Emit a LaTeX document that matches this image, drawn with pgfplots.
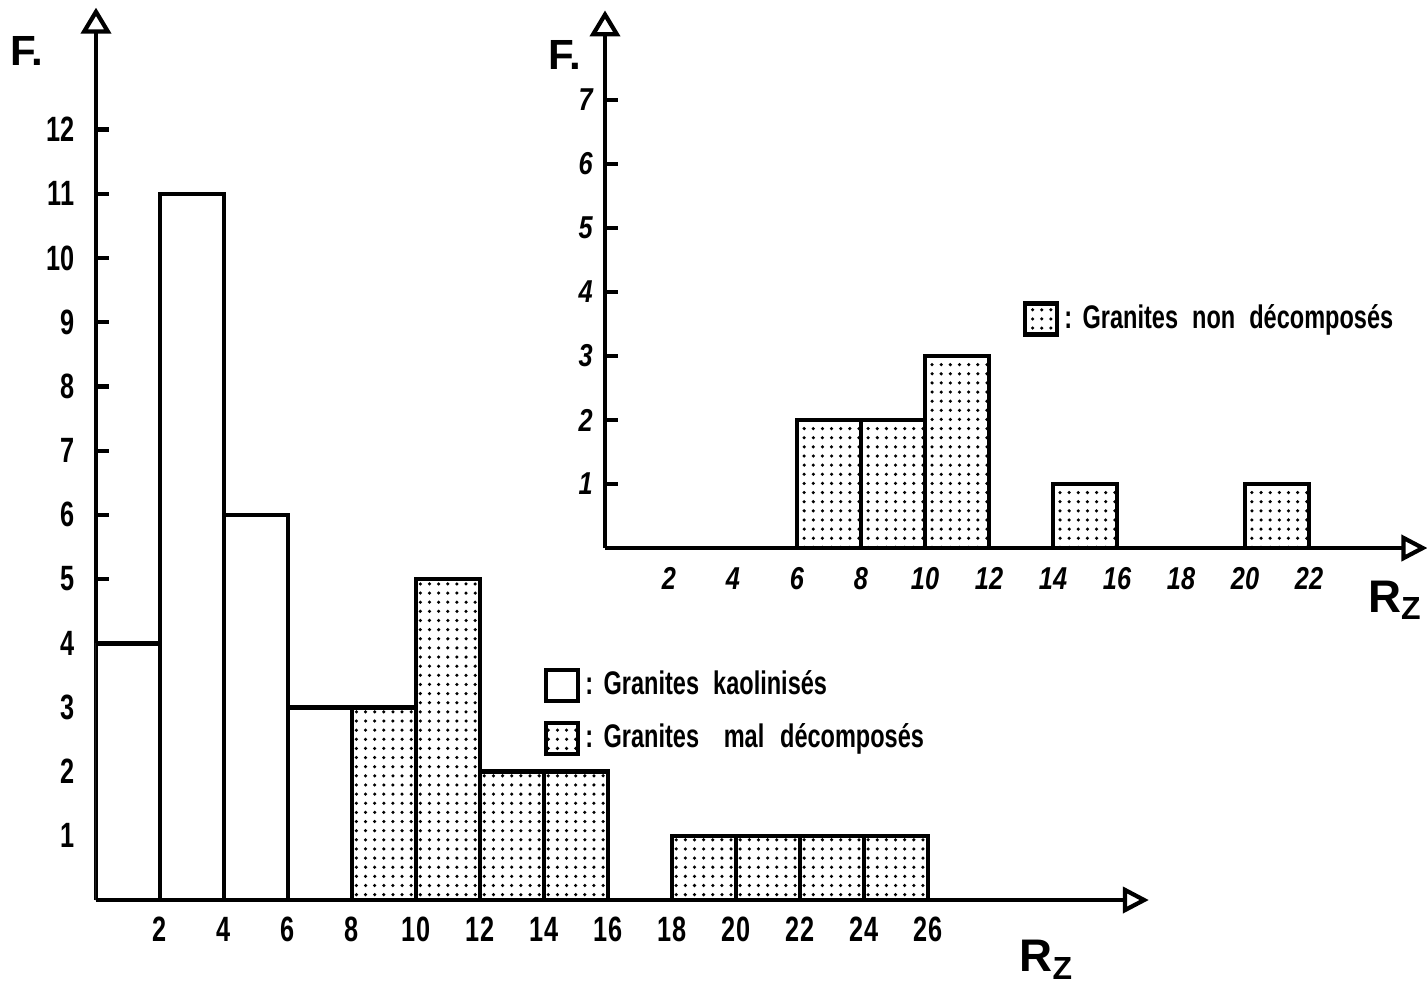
\documentclass[border=0pt]{standalone}
\usepackage{fontspec}
\setmainfont{Liberation Sans}[FakeStretch=0.8]
\newfontfamily\labfont{Liberation Sans}
\newfontfamily\tickfont{Liberation Sans}[FakeStretch=0.72]
\newfontfamily\legfont{Liberation Sans}[FakeStretch=0.72]
\usepackage{pgfplots}
\pgfplotsset{compat=1.18}
\usetikzlibrary{arrows.meta,patterns,patterns.meta}

\pgfdeclarepattern{
  name=finedots,
  type=uncolored,
  bottom left={\pgfpoint{-1.3pt}{-1.3pt}},
  top right={\pgfpoint{1.3pt}{1.3pt}},
  tile size={\pgfpoint{2.6pt}{2.6pt}},
  code={\pgfpathcircle{\pgfpointorigin}{0.5pt}\pgfusepath{fill}}
}

\pgfplotsset{
  hist/.style={
    axis lines*=left,
    x axis line style={line width=1.4pt,-{Triangle[open,length=2.6mm,width=2.6mm,line width=1.2pt]}},
    y axis line style={line width=1.4pt,-{Triangle[open,length=2.6mm,width=3mm,line width=1.2pt]}},
    tick align=inside,
    major tick length=1.3mm,
    ytick style={line width=1.2pt,black},
    xtick style={draw=none},
    /pgf/number format/assume math mode=true,
    every axis x label/.style={anchor=center,font=\labfont\bfseries\fontsize{13}{15}\selectfont},
    every axis y label/.style={anchor=center,font=\labfont\bfseries\fontsize{12}{14}\selectfont},
    legend cell align=left,
    legend image code/.code={\draw[#1] (0mm,-1.55mm) rectangle (3.2mm,1.55mm);},
    legend style={draw=none,fill=none,anchor=north west,inner sep=0pt,
      row sep=1.4mm,nodes={inner sep=0.5mm},
      font=\legfont\bfseries\fontsize{9.3}{11}\selectfont},
  },
  white bar/.style={ybar interval,draw=black,line width=1.3pt,fill=white},
  dot bar/.style={ybar interval,draw=black,line width=1.3pt,pattern=finedots},
}

\begin{document}
\begin{tikzpicture}
\path[use as bounding box] (0,0) rectangle (142.7mm,98.6mm);

% main histogram
\begin{axis}[hist,
  at={(9.6mm,8.6mm)}, anchor=south west,
  x=3.2mm, y=6.42mm,
  xmin=0, xmax=32.9, ymin=0, ymax=13.9,
  xtick={2,4,...,26}, ytick={1,2,...,12},
  ticklabel style={font=\tickfont\bfseries\fontsize{10}{12}\selectfont},
  yticklabel style={xshift=-0.9mm},
  xticklabel style={yshift=-0.5mm},
  xlabel={R\textsubscript{Z}}, ylabel={F.},
  xlabel style={at={(rel axis cs:0.903,-0.067)}},
  ylabel style={at={(rel axis cs:-0.0657,0.951)}},
  legend style={at={(0.4246,0.2633)}},
]
\addplot[white bar] coordinates {(0,4) (2,11) (4,6) (6,3) (8,0)};
\addlegendentry{:\hspace{3pt}Granites\hspace{4pt}kaolinisés}
\addplot[dot bar] coordinates {(8,3) (10,5) (12,2) (14,2) (16,0)};
\addlegendentry{:\hspace{3pt}Granites\hspace{7pt}mal\hspace{4.5pt}décomposés}
\addplot[dot bar,forget plot] coordinates {(18,1) (20,1) (22,1) (24,1) (26,0)};
\end{axis}

% inset histogram
\begin{axis}[hist,
  at={(60.5mm,43.8mm)}, anchor=south west,
  x=3.2mm, y=6.4mm,
  xmin=0, xmax=25.7, ymin=0, ymax=8.4,
  xtick={2,4,...,22}, ytick={1,2,...,7},
  ticklabel style={font=\bfseries\itshape\fontsize{9}{11}\selectfont},
  yticklabel style={xshift=0mm},
  xticklabel style={yshift=-0.7mm},
  xlabel={R\textsubscript{Z}}, ylabel={F.},
  xlabel style={at={(rel axis cs:0.961,-0.097)}},
  ylabel style={at={(rel axis cs:-0.049,0.917)}},
  legend style={at={(0.507,0.464)}},
]
\addplot[dot bar] coordinates {(6,2) (8,2) (10,3) (12,0)};
\addlegendentry{:\hspace{3pt}Granites\hspace{4pt}non\hspace{4pt}décomposés}
\addplot[dot bar,forget plot] coordinates {(14,1) (16,0)};
\addplot[dot bar,forget plot] coordinates {(20,1) (22,0)};
\end{axis}
\end{tikzpicture}
\end{document}
